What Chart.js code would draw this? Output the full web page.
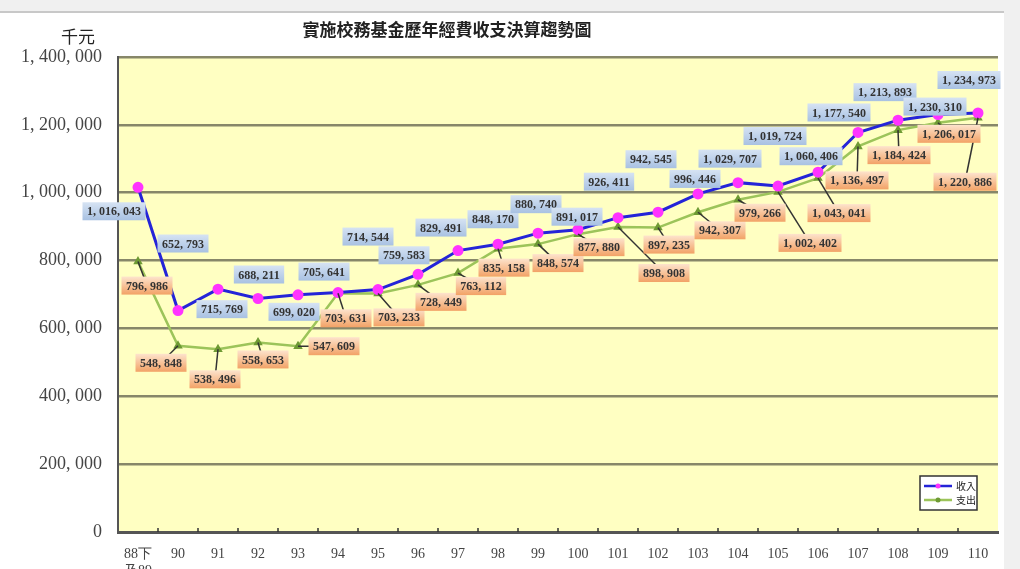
<!DOCTYPE html>
<html>
<head>
<meta charset="utf-8">
<script src="https://cdn.jsdelivr.net/npm/chart.js@4.4.1/dist/chart.umd.min.js"></script>
<style>
  html, body { margin: 0; padding: 0; background: #fff; }
  canvas { display: block; }
</style>
</head>
<body>
<canvas id="myChart" width="1020" height="569"></canvas>
<script>
const years = [['88下', '及89'], '90', '91', '92', '93', '94', '95', '96', '97', '98', '99', '100',
  '101', '102', '103', '104', '105', '106', '107', '108', '109', '110'];

const income = [1016043, 652793, 715769, 688211, 699020, 705641, 714544, 759583, 829491, 848170, 880740,
  891017, 926411, 942545, 996446, 1029707, 1019724, 1060406, 1177540, 1213893, 1230310, 1234973];

const expense = [796986, 548848, 538496, 558653, 547609, 703631, 703233, 728449, 763112, 835158, 848574,
  877880, 898908, 897235, 942307, 979266, 1002402, 1043041, 1136497, 1184424, 1206017, 1220886];

const yTicks = [0, 200000, 400000, 600000, 800000, 1000000, 1200000, 1400000];

// where each value label box sits, relative to its point (px)
const incomeLabelPos = [[-24, 24], [5, -67], [4, 20], [1, -24], [-4, 17], [-14, -21], [-10, -53], [-14, -19],
  [-17, -23], [-5, -25], [-2, -29], [-1, -13], [-9, -36], [-7, -53], [-3, -15], [-8, -24], [-3, -50],
  [-7, -16], [-19, -20], [-13, -28], [-3, -8], [-9, -33]];
const expenseLabelPos = [[9, 24], [-17, 17], [-3, 30], [5, 17], [36, 0], [8, 25], [21, 24], [23, 17],
  [23, 13], [6, 19], [20, 19], [21, 13], [46, 46], [11, 17], [22, 18], [22, 13], [32, 51], [21, 35],
  [-1, 34], [1, 25], [11, 11], [-13, 64]];

const fmt = v => v.toLocaleString('en-US').replace(/,/g, ', ');

const decor = {
  id: 'decor',
  beforeDraw(chart) {
    const c = chart.ctx, a = chart.chartArea;
    c.save();
    c.fillStyle = '#f0f0f0';
    c.fillRect(0, 0, chart.width, 11);
    c.fillRect(1004, 0, chart.width - 1004, chart.height);
    c.fillStyle = '#c8c8c8';
    c.fillRect(0, 11, 1004, 2);
    c.fillStyle = '#ffffc2';
    c.fillRect(a.left, a.top, a.right - a.left, a.bottom - a.top);
    c.fillStyle = '#222';
    c.font = 'bold 17px "Noto Sans CJK TC"';
    c.textAlign = 'center';
    c.textBaseline = 'middle';
    c.fillText('實施校務基金歷年經費收支決算趨勢圖', 447, 30);
    c.font = '17px "Noto Sans CJK TC"';
    c.fillText('千元', 78, 37);
    c.restore();
  },
  afterDraw(chart) {
    const c = chart.ctx, a = chart.chartArea, x = chart.scales.x;
    c.save();
    // small ticks between categories
    c.strokeStyle = '#333';
    c.lineWidth = 1.5;
    for (let i = 0; i < years.length - 1; i++) {
      const px = (x.getPixelForValue(i) + x.getPixelForValue(i + 1)) / 2;
      c.beginPath();
      c.moveTo(px, a.bottom);
      c.lineTo(px, a.bottom - 4);
      c.stroke();
    }
    // value labels
    const sets = [
      { meta: chart.getDatasetMeta(1), vals: expense, pos: expenseLabelPos, top: '#fde3cc', bot: '#f2a266', lead: true },
      { meta: chart.getDatasetMeta(0), vals: income, pos: incomeLabelPos, top: '#d6e3f3', bot: '#a8c1e2', lead: false }
    ];
    c.font = 'bold 12px "Liberation Serif"';
    c.textAlign = 'center';
    c.textBaseline = 'middle';
    sets.forEach(s => {
      s.meta.data.forEach((pt, i) => {
        const cx = pt.x + s.pos[i][0], cy = pt.y + s.pos[i][1];
        if (s.lead) {
          c.strokeStyle = '#333';
          c.lineWidth = 1.5;
          c.beginPath();
          c.moveTo(pt.x, pt.y);
          c.lineTo(cx, cy);
          c.stroke();
        }
      });
    });
    sets.forEach(s => {
      s.meta.data.forEach((pt, i) => {
        const cx = pt.x + s.pos[i][0], cy = pt.y + s.pos[i][1];
        const t = fmt(s.vals[i]);
        const w = c.measureText(t).width + 9, h = 18;
        const g = c.createLinearGradient(0, cy - h / 2, 0, cy + h / 2);
        g.addColorStop(0, s.top);
        g.addColorStop(1, s.bot);
        c.fillStyle = g;
        c.fillRect(cx - w / 2, cy - h / 2, w, h);
        c.fillStyle = '#333';
        c.fillText(t, cx, cy + 1);
      });
    });
    // legend
    const lx = 920, ly = 476, lw = 57, lh = 34;
    c.fillStyle = '#fff';
    c.fillRect(lx, ly, lw, lh);
    c.strokeStyle = '#333';
    c.lineWidth = 1.5;
    c.strokeRect(lx, ly, lw, lh);
    const items = [
      { label: '收入', color: '#2424d8', dot: '#ff33ff', y: ly + 10 },
      { label: '支出', color: '#9cc45a', dot: '#6e9a34', y: ly + 24 }
    ];
    c.font = '10px "Noto Sans CJK TC"';
    c.textAlign = 'left';
    items.forEach(it => {
      c.strokeStyle = it.color;
      c.lineWidth = 2.5;
      c.beginPath();
      c.moveTo(lx + 4, it.y);
      c.lineTo(lx + 32, it.y);
      c.stroke();
      c.fillStyle = it.dot;
      c.beginPath();
      c.arc(lx + 18, it.y, 2.5, 0, Math.PI * 2);
      c.fill();
      c.fillStyle = '#222';
      c.fillText(it.label, lx + 36, it.y);
    });
    c.restore();
  }
};

new Chart(document.getElementById('myChart'), {
  type: 'line',
  data: {
    labels: years,
    datasets: [{
      label: '收入',
      data: income,
      borderColor: '#2424d8',
      borderWidth: 3,
      pointBackgroundColor: '#ff33ff',
      pointBorderColor: '#ff33ff',
      pointRadius: 4,
      pointStyle: 'circle',
      tension: 0
    }, {
      label: '支出',
      data: expense,
      borderColor: '#9cc45a',
      borderWidth: 2.5,
      pointBackgroundColor: '#6e9a34',
      pointBorderColor: '#6e9a34',
      pointRadius: 3,
      pointStyle: 'triangle',
      tension: 0
    }]
  },
  options: {
    responsive: false,
    animation: false,
    devicePixelRatio: 1,
    layout: { padding: { top: 57, right: 22, left: 0, bottom: 0 } },
    scales: {
      x: {
        offset: true,
        grid: { display: false },
        border: { display: true, color: '#555', width: 3 },
        ticks: {
          color: '#444',
          font: { family: 'Liberation Serif', size: 14 },
          maxRotation: 0,
          autoSkip: false,
          padding: 6
        },
        afterFit(scale) { scale.height = 37; }
      },
      y: {
        min: 0,
        max: 1400000,
        afterBuildTicks(scale) { scale.ticks = yTicks.map(v => ({ value: v })); },
        grid: { color: '#878769', lineWidth: 2.5, drawTicks: false },
        border: { display: true, color: '#555', width: 2 },
        ticks: {
          color: '#444',
          font: { family: 'Liberation Serif', size: 18 },
          padding: 16,
          callback: v => fmt(v)
        },
        afterFit(scale) { scale.width = 118; }
      }
    },
    plugins: {
      legend: { display: false },
      tooltip: { enabled: false }
    }
  },
  plugins: [decor]
});
</script>
</body>
</html>
